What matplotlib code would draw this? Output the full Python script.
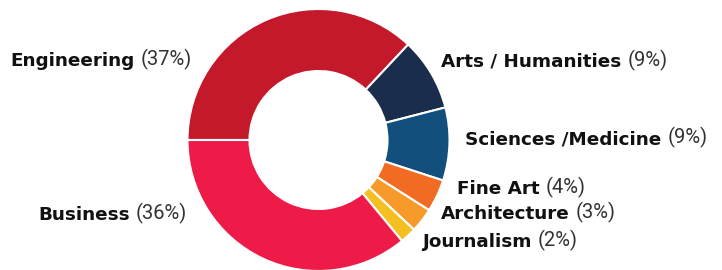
import matplotlib
matplotlib.use("Agg")
import matplotlib.pyplot as plt

# data (clockwise from 9 o'clock)
categories = ["Engineering", "Arts / Humanities", "Sciences /Medicine",
              "Fine Art", "Architecture", "Journalism", "Business"]
shares = [37, 9, 9, 4, 3, 2, 36]
colors = ["#C4182B", "#1A2D4D", "#124F7C", "#F26B22", "#F79A2A", "#F5BF22", "#EE1A48"]

# label anchor (left x, middle y) in pixels from top-left
label_pos = [(10, 61), (441, 62), (465, 139), (457, 189), (441, 214), (422, 242), (38, 215)]

W, H = 722, 270
fig = plt.figure(figsize=(W / 100, H / 100), dpi=100)
ax = fig.add_axes([0, 0, 1, 1])

ax.pie(shares, colors=colors, startangle=180, counterclock=False,
       center=(318.5, H - 140), radius=131,
       wedgeprops=dict(width=62, edgecolor="white", linewidth=1.5))
ax.set_xlim(0, W)
ax.set_ylim(0, H)
ax.set_aspect("equal")
ax.axis("off")

for name, pct, (x, y) in zip(categories, shares, label_pos):
    t = ax.text(x, H - y, name, fontsize=13.2, fontweight="bold", family="DejaVu Sans",
                color="#111111", ha="left", va="center")
    ax.annotate("(%d%%)" % pct, xy=(1, 0), xycoords=t, xytext=(4.5, 0),
                textcoords="offset points", fontsize=14.5, family="Roboto",
                color="#333333", ha="left", va="bottom")

fig.savefig("out.png", dpi=100)
